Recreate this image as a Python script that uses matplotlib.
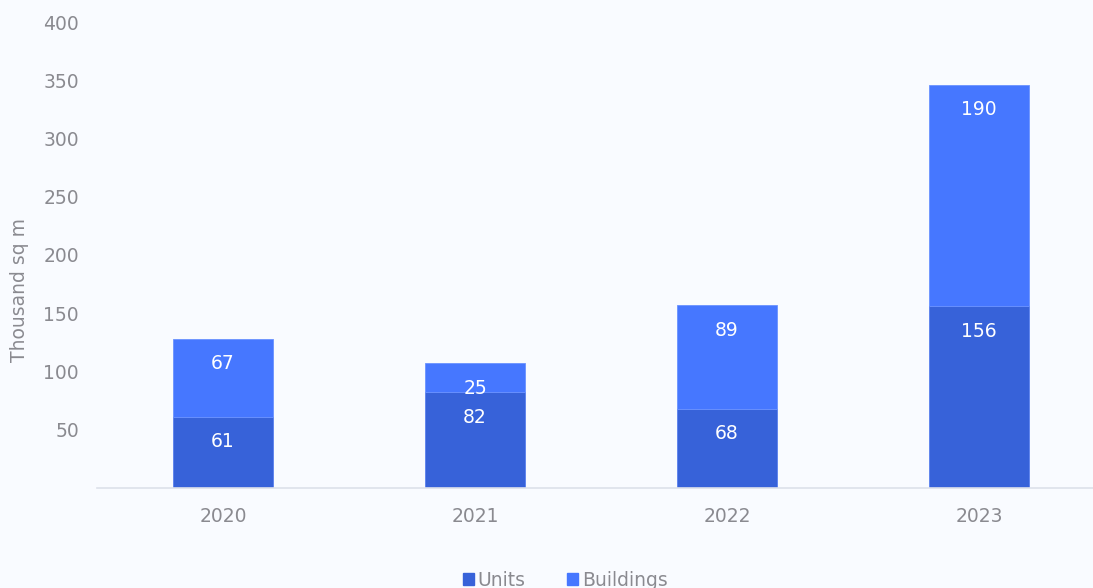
import matplotlib.pyplot as plt
from matplotlib.patches import Patch

years = ["2020", "2021", "2022", "2023"]
units = [61, 82, 68, 156]
buildings = [67, 25, 89, 190]
yticks = [50, 100, 150, 200, 250, 300, 350, 400]

C_UNITS = "#3762d9"
C_BLD = "#4677ff"
BG = "#f9fbff"
TXT = "#8a8a90"
FS = 13.5

plt.rcParams["font.family"] = "DejaVu Sans"
plt.rcParams["font.size"] = FS

fig = plt.figure(figsize=(10.93, 5.88), dpi=100, facecolor=BG)
ax = fig.add_axes([97 / 1093, 1 - 488 / 588, 996 / 1093, 466 / 588], facecolor=BG)

x = range(len(years))
ax.bar(x, units, width=0.4, color=C_UNITS, edgecolor="#5a80ee", linewidth=0.6)
ax.bar(x, buildings, width=0.4, bottom=units, color=C_BLD, edgecolor="#6a92ff", linewidth=0.6)

for i in x:
    ax.annotate(str(units[i]), (i, units[i]), xytext=(0, -25), textcoords="offset pixels",
                ha="center", va="center", color="white", fontsize=FS)
    ax.annotate(str(buildings[i]), (i, units[i] + buildings[i]), xytext=(0, -25),
                textcoords="offset pixels", ha="center", va="center", color="white", fontsize=FS)

ax.set_xlim(-0.5, 3.452)
ax.set_ylim(0, 400)
ax.set_xticks(list(x))
ax.set_xticklabels(years)
ax.set_yticks(yticks)
ax.tick_params(axis="both", length=0, colors=TXT, labelsize=FS)
ax.tick_params(axis="y", pad=13)
ax.tick_params(axis="x", pad=14)
for s in ["left", "right", "top"]:
    ax.spines[s].set_visible(False)
ax.spines["bottom"].set_color("#dde1ea")
ax.spines["bottom"].set_linewidth(1.2)

ax.set_ylabel("Thousand sq m", color=TXT, fontsize=FS)
ax.yaxis.set_label_coords(-68 / 996, (488 - 290) / 466)

handles = [Patch(color=C_UNITS, label="Units"), Patch(color=C_BLD, label="Buildings")]
fig.legend(handles=handles, loc="center", bbox_to_anchor=(565 / 1093, 1 - 580 / 588), ncol=2,
           frameon=False, handlelength=0.6, handleheight=0.6, handletextpad=0.2,
           columnspacing=2.2, labelcolor=TXT, fontsize=FS)

fig.savefig("out.png", dpi=100, facecolor=BG)
